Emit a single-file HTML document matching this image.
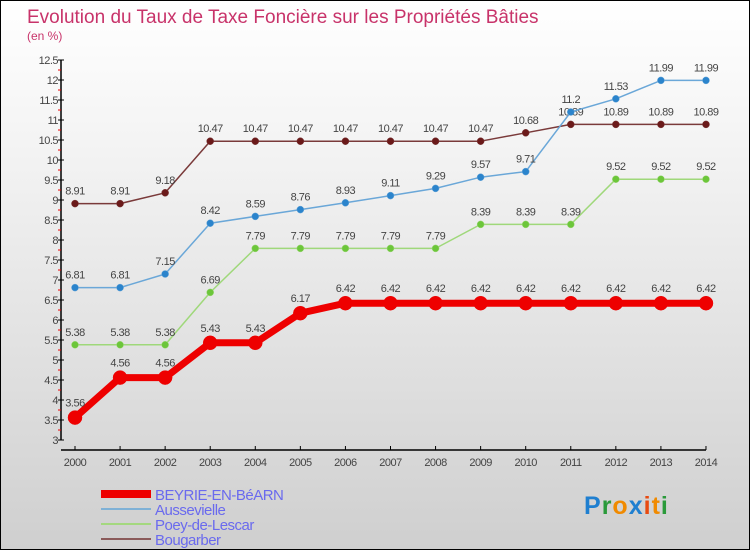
<!DOCTYPE html>
<html><head><meta charset="utf-8"><style>
body{margin:0}
#wrap{width:748px;height:548px;border:1px solid #000;background:linear-gradient(#fff 0%,#f2f2f2 30%,#cfcfcf 100%);position:relative;overflow:hidden;font-family:"Liberation Sans",sans-serif}
</style></head><body>
<div id="wrap">
<svg id="chart" width="748" height="548"></svg>
</div>
<script>
const years=["2000","2001","2002","2003","2004","2005","2006","2007","2008","2009","2010","2011","2012","2013","2014"];
const beyrie=[3.56,4.56,4.56,5.43,5.43,6.17,6.42,6.42,6.42,6.42,6.42,6.42,6.42,6.42,6.42];
const aussevielle=[6.81,6.81,7.15,8.42,8.59,8.76,8.93,9.11,9.29,9.57,9.71,11.2,11.53,11.99,11.99];
const poey=[5.38,5.38,5.38,6.69,7.79,7.79,7.79,7.79,7.79,8.39,8.39,8.39,9.52,9.52,9.52];
const bougarber=[8.91,8.91,9.18,10.47,10.47,10.47,10.47,10.47,10.47,10.47,10.68,10.89,10.89,10.89,10.89];
const yTicks=[3,3.5,4,4.5,5,5.5,6,6.5,7,7.5,8,8.5,9,9.5,10,10.5,11,11.5,12,12.5];
const seriesNames=["BEYRIE-EN-BéARN","Aussevielle","Poey-de-Lescar","Bougarber"];

const NS="http://www.w3.org/2000/svg";
const svg=document.getElementById('chart');
const X=i=>74+i*45.07;
const Y=v=>439-(v-3)*40;
function el(t,a,txt){const e=document.createElementNS(NS,t);for(const k in a)e.setAttribute(k,a[k]);if(txt!==undefined)e.textContent=txt;svg.appendChild(e);return e;}

let t=el('text',{x:26,y:22,'font-size':19,fill:'#c8336a'},'Evolution du Taux de Taxe Foncière sur les Propriétés Bâties');


t=el('text',{x:26,y:39,'font-size':12,fill:'#c8336a'},'(en %)');



// axes
let a=el('line',{x1:60,y1:Y(12.5),x2:60,y2:Y(3),stroke:'#000','stroke-width':1.5});


a=el('line',{x1:60,y1:449,x2:X(14),y2:449,stroke:'#000','stroke-width':1.5});


yTicks.forEach(v=>{
  el('line',{x1:57,y1:Y(v),x2:63,y2:Y(v),stroke:'#000'});
  if(v<12.5) el('line',{x1:57,y1:Y(v+0.25),x2:60,y2:Y(v+0.25),stroke:'#e00'});
  const l=el('text',{x:57,y:Y(v)+4,'font-size':11,fill:'#444','text-anchor':'end','letter-spacing':'-0.5'},String(v));
  
  
});
years.forEach((y,i)=>{
  el('line',{x1:X(i),y1:445,x2:X(i),y2:449,stroke:'#000'});
  const l=el('text',{x:X(i),y:465,'font-size':11,fill:'#444','text-anchor':'middle','letter-spacing':'-0.5'},y);
  
  
});

function series(data,color,dot,w,r,name,labelDy){
  const pts=data.map((v,i)=>X(i)+','+Y(v)).join(' ');
  const p=el('polyline',{points:pts,fill:'none',stroke:color,'stroke-width':w,'stroke-linejoin':'round'});
  
  
  data.forEach((v,i)=>{
    const c=el('circle',{cx:X(i),cy:Y(v),r:r,fill:dot,stroke:color,'stroke-width':0.5});
    
    
    const l=el('text',{x:X(i),y:Y(v)-labelDy,'font-size':11,fill:'#444','text-anchor':'middle','letter-spacing':'-0.5'},String(v));
    
    
  });
}
series(bougarber,'#7a3a3a','#6b1a1a',1.5,3.5,'bougarber',9);
series(aussevielle,'#6aa7d8','#2b84cc',1.5,3.5,'aussevielle',9);
series(poey,'#9fd87a','#6cc63a',1.5,3.5,'poey-de-lescar',9);
series(beyrie,'#ee0000','#ee0000',7,7,'beyrie',11);

// legend
const lc=['#ee0000','#7fb1d6','#a4d87f','#8a5a5a'];
const lw=[8,2,2,2];
seriesNames.forEach((n,i)=>{
  const y=493+i*15;
  const l=el('line',{x1:100,y1:y,x2:150,y2:y,stroke:lc[i],'stroke-width':lw[i]});
  
  
  const tx=el('text',{x:154,y:y+6,'font-size':15,fill:'#6a6aee','letter-spacing':'-0.5'},n);
  
  
});

// logo
const logo=el('text',{x:583,y:513,'font-size':25,'font-weight':'bold','letter-spacing':'1'},'');


[['P','#1f7fd0'],['r','#2a9a3a'],['o','#f08a00'],['x','#1f7fd0'],['i','#e84a10'],['t','#f08a00'],['i','#2a9a3a']].forEach(([c,f])=>{
  const s=document.createElementNS(NS,'tspan');s.setAttribute('fill',f);s.textContent=c;logo.appendChild(s);
});
</script>
</body></html>
